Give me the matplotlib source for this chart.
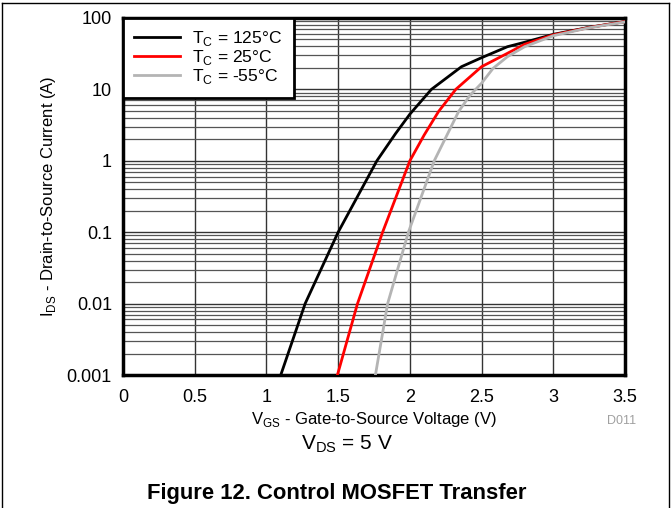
import matplotlib
matplotlib.use("Agg")
import matplotlib.pyplot as plt
from matplotlib.lines import Line2D
from matplotlib.ticker import FixedLocator, NullFormatter

plt.rcParams['font.family'] = ['Liberation Sans', 'DejaVu Sans']
plt.rcParams['mathtext.fontset'] = 'custom'
plt.rcParams['mathtext.rm'] = 'Liberation Sans'

# Data (VGS in V, IDS in A)
v_125 = [1.10, 1.27, 1.50, 1.77, 1.90, 2.00, 2.15, 2.36, 2.50, 2.68, 2.80, 3.00, 3.25, 3.50]
i_125 = [0.001, 0.01, 0.1, 1.0, 2.4, 4.5, 10.0, 20.8, 27.8, 39.6, 45.7, 59.0, 74.0, 89.0]
v_25 = [1.495, 1.635, 1.81, 2.00, 2.10, 2.20, 2.32, 2.50, 2.68, 2.80, 3.00, 3.25, 3.50]
i_25 = [0.001, 0.01, 0.1, 1.0, 2.3, 4.9, 10.0, 20.8, 32.0, 42.8, 58.0, 73.5, 89.0]
v_m55 = [1.76, 1.845, 1.99, 2.17, 2.34, 2.42, 2.50, 2.58, 2.68, 2.80, 3.00, 3.25, 3.50]
i_m55 = [0.001, 0.01, 0.1, 1.0, 4.9, 8.3, 12.2, 19.7, 28.7, 39.6, 56.5, 73.0, 88.0]

series_labels = [r'T$_\mathregular{C}$ = 125°C', r'T$_\mathregular{C}$ = 25°C', r'T$_\mathregular{C}$ = -55°C']
series_colors = ['black', '#ff0000', '#b4b4b4']

x_ticks = [0, 0.5, 1, 1.5, 2, 2.5, 3, 3.5]
x_tick_labels = ['0', '0.5', '1', '1.5', '2', '2.5', '3', '3.5']
y_ticks = [0.001, 0.01, 0.1, 1, 10, 100]
y_tick_labels = ['0.001', '0.01', '0.1', '1', '10', '100']

fig = plt.figure(figsize=(6.71, 5.08), dpi=100)
W, H = 671, 508
ax = fig.add_axes([123 / W, 1 - 375 / H, (625 - 123) / W, (375 - 18) / H])

ax.set_yscale('log')
ax.set_xlim(0, 3.5)
ax.set_ylim(0.001, 100)

for v, i, lab, col in zip([v_125, v_25, v_m55], [i_125, i_25, i_m55], series_labels, series_colors):
    ax.plot(v, i, color=col, lw=2.0, label=lab, zorder=3, solid_joinstyle='round')

ax.set_xticks(x_ticks)
ax.set_xticklabels(x_tick_labels)
ax.set_yticks(y_ticks)
ax.set_yticklabels(y_tick_labels)
minor = [m * 10.0 ** e for e in range(-3, 2) for m in range(2, 10)]
ax.yaxis.set_minor_locator(FixedLocator(minor))
ax.yaxis.set_minor_formatter(NullFormatter())
ax.tick_params(axis='both', which='both', length=0, labelsize=13)
ax.tick_params(axis='x', pad=10)
ax.tick_params(axis='y', pad=8)

ax.grid(True, which='major', axis='both', color='#333333', lw=1.0)
ax.grid(True, which='minor', axis='y', color='#555555', lw=0.9)
ax.set_axisbelow(True)

for s in ax.spines.values():
    s.set_linewidth(2.5)
    s.set_color('black')

ax.set_xlabel(r'V$_\mathregular{GS}$ - Gate-to-Source Voltage (V)', fontsize=12, labelpad=3)
ax.set_ylabel(r'I$_\mathregular{DS}$ - Drain-to-Source Current (A)', fontsize=12, labelpad=6)

leg = ax.legend(loc='upper left', fontsize=12.6, frameon=True, fancybox=False,
                borderaxespad=0.0, handlelength=2.6, handletextpad=0.7,
                labelspacing=0.0, borderpad=0.65)
leg.get_frame().set_edgecolor('black')
leg.get_frame().set_linewidth(2.0)
leg.get_frame().set_alpha(1)

fig.text(622 / W, 1 - 421 / H, 'D011', fontsize=9, color='#a0a0a0', ha='center', va='center')
fig.text(347 / W, 1 - 444 / H, r'V$_\mathregular{DS}$ = 5 V', fontsize=15, ha='center', va='center')
fig.text(337 / W, 1 - 494 / H, 'Figure 12. Control MOSFET Transfer', fontsize=15.8,
         fontweight='bold', ha='center', va='center')

# Figure frame lines
fig.add_artist(Line2D([1.5 / W, 1.5 / W], [0, 1 - 3 / H], color='black', lw=1, transform=fig.transFigure))
fig.add_artist(Line2D([668.5 / W, 668.5 / W], [0, 1 - 3 / H], color='black', lw=1, transform=fig.transFigure))
fig.add_artist(Line2D([1.5 / W, 668.5 / W], [1 - 3 / H, 1 - 3 / H], color='black', lw=1, transform=fig.transFigure))

fig.savefig('out.png', dpi=100)
